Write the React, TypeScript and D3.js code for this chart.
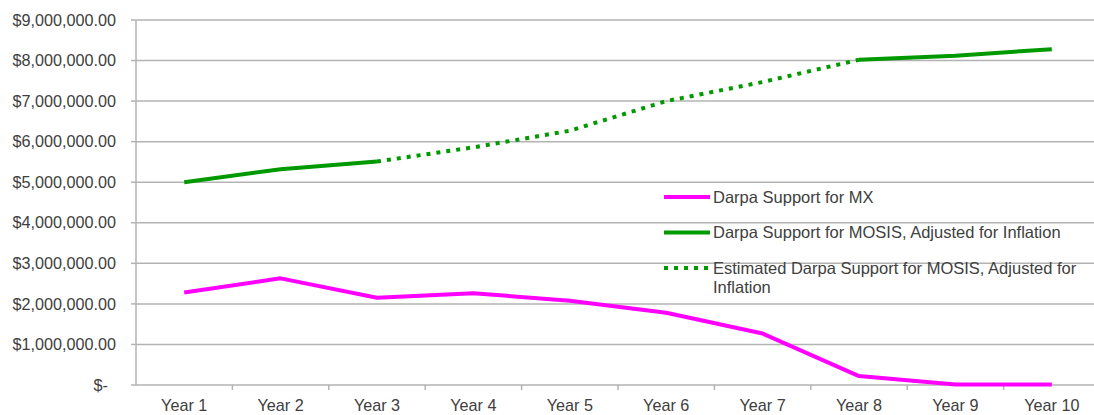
import React from "react";
import * as d3 from "d3";

const years = ["Year 1", "Year 2", "Year 3", "Year 4", "Year 5", "Year 6", "Year 7", "Year 8", "Year 9", "Year 10"];
const mxSupport = [2280000, 2630000, 2150000, 2260000, 2080000, 1780000, 1270000, 220000, 10000, 10000];
const mosisActual: (number | null)[] = [5000000, 5320000, 5510000, null, null, null, null, 8020000, 8120000, 8280000];
const mosisEstimated: (number | null)[] = [null, null, 5510000, 5860000, 6270000, 7000000, 7470000, 8020000, null, null];
const yTicks = [0, 1000000, 2000000, 3000000, 4000000, 5000000, 6000000, 7000000, 8000000, 9000000];
const legendItems = [
  { label: ["Darpa Support for MX"], color: "#ff00ff", dash: null },
  { label: ["Darpa Support for MOSIS, Adjusted for Inflation"], color: "#009a00", dash: null },
  { label: ["Estimated Darpa Support for MOSIS, Adjusted for", "Inflation"], color: "#009a00", dash: "4,6" },
];

const W = 1094;
const H = 415;
const left = 136;
const right = 1100;
const top = 20;
const bottom = 385;
const font = "'Liberation Sans', Arial, sans-serif";
const textColor = "#404040";
const gridColor = "#b3b3b3";

const fmt = (v: number) => (v === 0 ? "$-" : "$" + d3.format(",.2f")(v));

export default function App() {
  const x = d3.scaleBand<string>().domain(years).range([left, right]);
  const y = d3.scaleLinear().domain([0, 9000000]).range([bottom, top]);
  const cx = (i: number) => (x(years[i]) as number) + x.bandwidth() / 2;

  const line = d3
    .line<number | null>()
    .defined((d) => d !== null)
    .x((_, i) => cx(i))
    .y((d) => y(d as number));

  return (
    <svg width={W} height={H} style={{ position: "absolute", left: 0, top: 0, display: "block" }}>
      <rect x={0} y={0} width={W} height={H} fill="#fff" />
      {yTicks.map((t) => (
        <g key={t}>
          {t > 0 && <line x1={left} x2={W} y1={y(t)} y2={y(t)} stroke={gridColor} strokeWidth={1.5} />}
          <line x1={left - 5} x2={left} y1={y(t)} y2={y(t)} stroke={gridColor} strokeWidth={1.5} />
          <text x={t === 0 ? 108 : 116} y={y(t)} dy="0.35em" textAnchor="end" fontFamily={font} fontSize={16.2} fill={textColor}>
            {fmt(t)}
          </text>
        </g>
      ))}
      <line x1={left} x2={left} y1={top} y2={bottom} stroke={gridColor} strokeWidth={1.5} />
      <line x1={left} x2={W} y1={bottom} y2={bottom} stroke={gridColor} strokeWidth={1.5} />
      {years.map((yr, i) => (
        <g key={yr}>
          {i > 0 && (
            <line x1={x(yr) as number} x2={x(yr) as number} y1={bottom} y2={bottom + 5} stroke={gridColor} strokeWidth={1.5} />
          )}
          <text x={cx(i)} y={411} textAnchor="middle" fontFamily={font} fontSize={16.2} fill={textColor}>
            {yr}
          </text>
        </g>
      ))}
      <path d={line(mosisActual) || ""} fill="none" stroke="#009a00" strokeWidth={4} />
      <path d={line(mosisEstimated) || ""} fill="none" stroke="#009a00" strokeWidth={4} strokeDasharray="4,6" />
      <path d={line(mxSupport) || ""} fill="none" stroke="#ff00ff" strokeWidth={4} strokeLinejoin="round" />
      {legendItems.map((item, i) => {
        const ly = 197 + i * 35.5;
        return (
          <g key={i}>
            <line x1={664} x2={710} y1={ly} y2={ly} stroke={item.color} strokeWidth={4} strokeDasharray={item.dash || undefined} />
            {item.label.map((s, j) => (
              <text key={j} x={713} y={ly + j * 19} dy="0.35em" fontFamily={font} fontSize={16.5} fill={textColor}>
                {s}
              </text>
            ))}
          </g>
        );
      })}
    </svg>
  );
}
